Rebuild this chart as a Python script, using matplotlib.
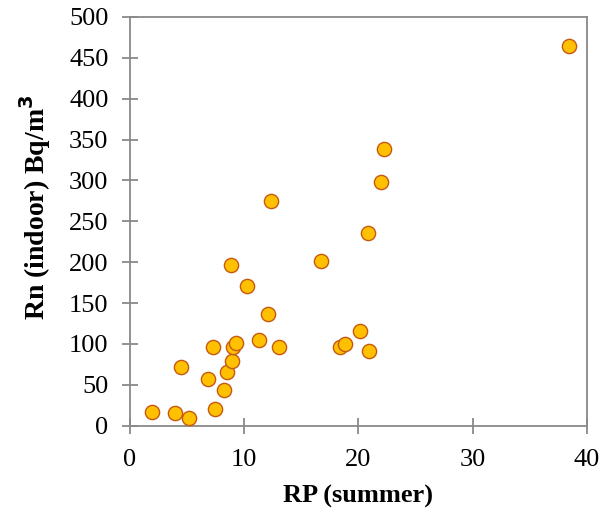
import matplotlib.pyplot as plt

rp_summer = [1.9, 3.9, 5.15, 4.5, 6.8, 7.4, 7.3, 8.2, 8.5, 8.95, 9.05, 9.3,
             8.8, 10.2, 11.3, 12.1, 12.3, 13.0, 16.7, 18.4, 18.8, 20.1,
             20.8, 20.9, 22.0, 22.2, 38.4]
rn_indoor = [17, 16, 10, 72, 57, 21, 96, 44, 66, 79, 96, 101,
             196, 171, 105, 137, 275, 96, 201, 96, 100, 116,
             236, 91, 298, 338, 465]

plt.rcParams['font.family'] = ['Liberation Serif', 'DejaVu Serif']

fig = plt.figure(figsize=(6.1, 5.12), dpi=100)
ax = fig.add_axes([0.2131, 0.1686, 0.7492, 0.7982])

ax.scatter(rp_summer, rn_indoor, s=105, c='#FFC000', edgecolors='#C65911',
           linewidths=1.0, zorder=3, clip_on=False)

ax.set_xlim(0, 40)
ax.set_ylim(0, 500)
ax.set_xticks(range(0, 41, 10))
ax.set_yticks(range(0, 501, 50))

for sp in ax.spines.values():
    sp.set_color('#898989')
    sp.set_linewidth(1.3)

ax.tick_params(direction='inout', length=11, width=1.3, color='#898989',
               labelsize=19, labelcolor='black')
ax.tick_params(axis='y', pad=10)
ax.tick_params(axis='x', pad=11)

ax.set_xlabel('RP (summer)', fontsize=19, fontweight='bold', labelpad=10)
ax.set_ylabel('Rn (indoor) Bq/m$^\\mathbf{3}$', fontsize=20, fontweight='bold')
ax.yaxis.set_label_coords(-0.168, 0.535)

fig.savefig('out.png', dpi=100)
